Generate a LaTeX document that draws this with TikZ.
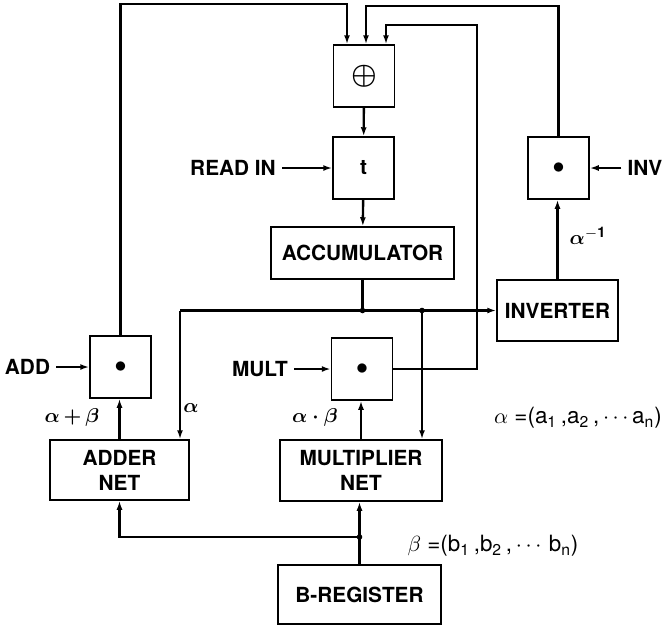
\documentclass[tikz,border=0pt]{standalone}
\usepackage{amsmath}
\usepackage{fontspec}
\setmainfont{TeX Gyre Heros}
\usetikzlibrary{arrows.meta, positioning, calc}

\begin{document}
\begin{tikzpicture}[x=0.5pt, y=-0.5pt,
  font=\fontsize{10.4}{12.5}\selectfont\bfseries,
  box/.style={draw, line width=0.75pt, inner sep=0pt, align=center},
  gate/.style={box, minimum width=30.5pt, minimum height=31pt},
  wire/.style={line width=1.2pt},
  sig/.style={wire, -{Latex[length=4.5pt,width=3pt]}},
  junc/.style={circle, fill, inner sep=0pt, minimum size=2.8pt},
  tag/.style={inner sep=3pt},
  vec/.style={font=\fontsize{11.2}{13}\selectfont\mdseries}]
  \useasboundingbox (0,0) rectangle (669,628);

  % boxes
  \node[gate] (xor) at (364,76) {\Large$\boldsymbol{\oplus}$};
  \node[gate] (tbox) at (363.5,168) {t};
  \node[box, minimum width=91.5pt, minimum height=26pt] (acc) at (362.5,253) {ACCUMULATOR};
  \node[box, minimum width=60.5pt, minimum height=30.5pt] (inverter) at (557.5,310.5) {INVERTER};
  \node[gate] (invg) at (558.5,168) {\large$\bullet$};
  \node[gate] (addg) at (120.5,367) {\large$\bullet$};
  \node[gate] (multg) at (362,369) {\large$\bullet$};
  \node[box, minimum width=69.5pt, minimum height=30pt] (addnet) at (119.5,470) {ADDER\\NET};
  \node[box, minimum width=81pt, minimum height=30.5pt] (multnet) at (361,470.5) {MULTIPLIER\\NET};
  \node[box, minimum width=81.5pt, minimum height=29.5pt] (breg) at (359.5,594.5) {B-REGISTER};

  % control inputs
  \node[tag] (readin) at (233,168) {READ IN};
  \node[tag] (add) at (27.5,367) {ADD};
  \node[tag] (mult) at (260,369) {MULT};
  \node[tag] (inv) at (645,168) {INV};

  % corners of the wires
  \coordinate (topA) at (347,4);
  \coordinate (topB) at (366,6);
  \coordinate (topC) at (386,25);
  \coordinate (fbR) at (477,25);
  \coordinate (busL) at (180,310.5);
  \coordinate (j2) at (422,310.5);
  \coordinate (j3) at (breg.north |- 0,537);

  % feedback into the adder
  \draw[sig] (addg.north) |- (topA) -- (topA |- xor.north);
  \draw[sig] (invg.north) |- (topB) -- (topB |- xor.north);
  \draw[sig] (multg.east) -| (fbR) -- (topC) -- (topC |- xor.north);

  \draw[sig] (xor) -- (tbox);
  \draw[sig] (tbox) -- (acc);
  \draw[sig] (readin) -- (tbox);
  \draw[sig] (add) -- (addg);
  \draw[sig] (mult) -- (multg);
  \draw[sig] (inv) -- (invg);

  % accumulator bus
  \draw[wire] (acc) -- (acc.south |- busL) node[junc] {};
  \draw[sig] (busL) -- (inverter.west);
  \draw[sig] (busL) -- (busL |- addnet.north);
  \node[junc] at (j2) {};
  \draw[sig] (j2) -- (j2 |- multnet.north);

  \draw[sig] (addnet.north) -- (addnet.north |- addg.south);
  \draw[sig] (multnet.north) -- (multnet.north |- multg.south);
  \draw[sig] (inverter.north) -- (inverter.north |- invg.south);

  % b-register
  \draw[sig] (breg.north) -- (breg.north |- multnet.south);
  \node[junc] at (j3) {};
  \draw[sig] (j3) -| (addnet.south);

  % labels
  \node (sumlbl) at (72,417) {$\boldsymbol{\alpha\,{+}\,\beta}$};
  \node (alphalbl) at (191,408) {$\boldsymbol{\alpha}$};
  \node (prodlbl) at (315,417) {$\boldsymbol{\alpha\cdot\beta}$};
  \node (invlbl) at (588,236) {$\boldsymbol{\alpha}^{\mathbf{-1}}$};
  \node[vec] (avec) at (578,418)
    {$\alpha$ =(a\textsubscript{1}\,,a\textsubscript{2}\,,\,$\cdots$a\textsubscript{n})};
  \node[vec] (bvec) at (493,546)
    {$\beta$ =(b\textsubscript{1}\,,b\textsubscript{2}\,,\,$\cdots$\,b\textsubscript{n})};
\end{tikzpicture}
\end{document}
